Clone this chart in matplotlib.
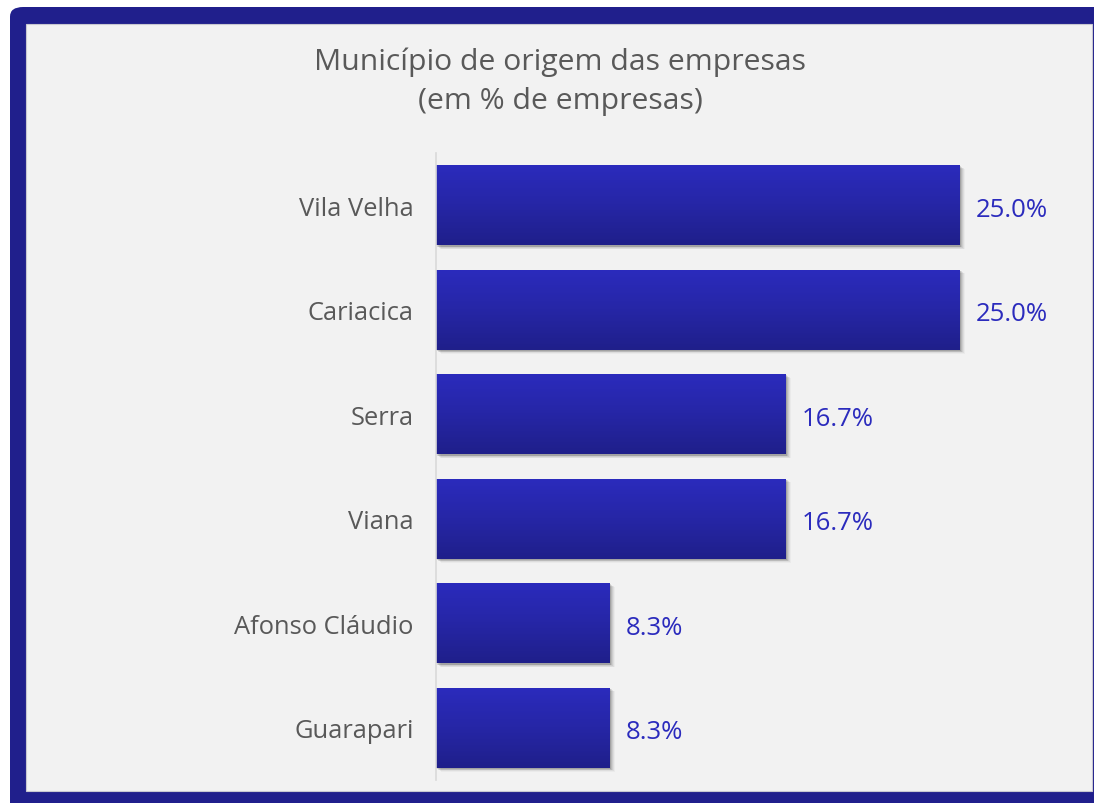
import numpy as np
import matplotlib
matplotlib.use("Agg")
import matplotlib.pyplot as plt
from matplotlib.patches import Rectangle, FancyBboxPatch

municipios = ["Vila Velha", "Cariacica", "Serra", "Viana", "Afonso Cláudio", "Guarapari"]
percentuais = [25.0, 25.0, 16.7, 16.7, 8.3, 8.3]

plt.rcParams["font.family"] = ["Open Sans", "DejaVu Sans"]

W, H = 1094, 804
fig = plt.figure(figsize=(W / 100, H / 100), dpi=100)
fig.patch.set_facecolor("white")

# moldura azul e painel cinza
fig.patches.append(FancyBboxPatch((10 / W, -200 / H), (W + 300) / W, (H + 192) / H,
                                  boxstyle="round,pad=0,rounding_size=0.012",
                                  transform=fig.transFigure, facecolor="#201f8c",
                                  edgecolor="none", zorder=-2))
fig.patches.append(Rectangle((26 / W, (H - 792) / H), (1092 - 26) / W, (792 - 25) / H,
                             transform=fig.transFigure, facecolor="#f2f2f2",
                             edgecolor="#c8c8d0", linewidth=0.8, zorder=-1))

fig.text(560 / W, 1 - 82 / H, "Município de origem das empresas\n(em % de empresas)",
         ha="center", va="center", fontsize=21.7, color="#595959", linespacing=1.45)

ax = fig.add_axes([436 / W, 1 - 781 / H, (1050 - 436) / W, (781 - 154) / H])
ax.set_facecolor("none")
ax.set_xlim(0, 29.3)
ax.set_ylim(len(municipios) - 0.5, -0.5)

y = np.arange(len(municipios))
bars = ax.barh(y, percentuais, height=0.77, color="#2525a8", zorder=3)

grad = np.linspace(0, 1, 256).reshape(-1, 1)
cmap = matplotlib.colors.LinearSegmentedColormap.from_list("g", ["#2b2bbd", "#2626a6", "#1f1f8a"])
for b in bars:
    x0, y0, w, h = b.get_x(), b.get_y(), b.get_width(), b.get_height()
    # sombra
    for k, a in enumerate([0.12, 0.09, 0.07, 0.05, 0.03]):
        d = 0.1 + k * 0.07
        ax.add_patch(Rectangle((x0 + d * 0.6, y0 + d * 0.1), w, h, facecolor="black",
                               alpha=a, edgecolor="none", zorder=1))
    im = ax.imshow(grad, extent=(x0, x0 + w, y0 + h, y0), cmap=cmap, aspect="auto", zorder=4)
    im.set_clip_path(b)

for yi, v in zip(y, percentuais):
    ax.text(v + 0.75, yi + 0.04, f"{v:.1f}%", va="center", ha="left",
            fontsize=18.5, color="#2b2bbd", zorder=5)

ax.set_yticks(y)
ax.set_yticklabels(municipios, fontsize=18.4, color="#595959")
ax.tick_params(axis="y", length=0, pad=16)
ax.set_xticks([])
for s in ["top", "right", "bottom"]:
    ax.spines[s].set_visible(False)
ax.spines["left"].set_color("#d9d9d9")
ax.spines["left"].set_linewidth(1.2)
ax.spines["left"].set_zorder(6)

fig.savefig("out.png", dpi=100, facecolor=fig.get_facecolor())
